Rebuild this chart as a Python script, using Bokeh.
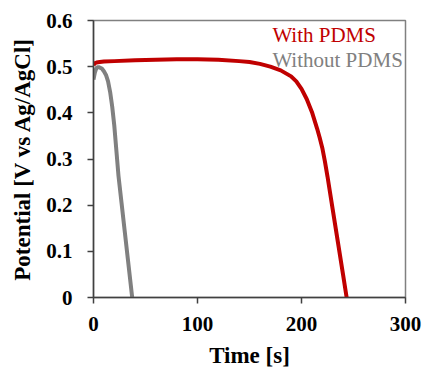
from bokeh.plotting import figure
from bokeh.models import Range1d, FixedTicker, Label
from bokeh.embed import file_html
from bokeh.resources import INLINE

# Data
time_with = [0, 1, 3, 6, 10, 20, 40, 60, 80, 100, 120, 140, 150, 160, 170, 180,
             190, 195, 200, 205, 210, 215, 217.5, 220, 222.5, 225, 230, 235, 240, 243.4]
pot_with = [0.503, 0.507, 0.509, 0.510, 0.511, 0.512, 0.514, 0.515, 0.516, 0.516,
            0.515, 0.512, 0.510, 0.506, 0.500, 0.492, 0.479, 0.468, 0.452, 0.430,
            0.402, 0.366, 0.346, 0.324, 0.295, 0.262, 0.191, 0.120, 0.049, 0.0]

time_without = [0, 0.5, 1.3, 2.5, 3.5, 5, 8, 10, 12, 14, 16, 18, 20, 22, 24, 27,
                30, 33, 37.2]
pot_without = [0.472, 0.478, 0.487, 0.495, 0.499, 0.499, 0.496, 0.490, 0.482,
               0.468, 0.445, 0.413, 0.372, 0.318, 0.264, 0.204, 0.144, 0.084, 0.0]

x_ticks = [0, 100, 200, 300]
y_ticks = [0, 0.1, 0.2, 0.3, 0.4, 0.5, 0.6]
y_tick_labels = {0: "0", 0.1: "0.1", 0.2: "0.2", 0.3: "0.3", 0.4: "0.4", 0.5: "0.5", 0.6: "0.6"}

series_names = ["With PDMS", "Without PDMS"]
RED = "#C00000"
GRAY = "#808080"
FONT = "Liberation Serif"

p = figure(frame_width=312, frame_height=277, output_backend="svg", toolbar_location=None,
           x_range=Range1d(0, 300), y_range=Range1d(0, 0.6),
           min_border_left=93, min_border_right=18, min_border_top=20,
           min_border_bottom=74)

p.line(time_with, pot_with, line_color=RED, line_width=4)
p.line(time_without, pot_without, line_color=GRAY, line_width=4)

p.xgrid.visible = False
p.ygrid.visible = False
p.outline_line_color = GRAY
p.outline_line_width = 1.5

for ax in (p.xaxis[0], p.yaxis[0]):
    ax.axis_line_color = "#404040"
    ax.axis_line_width = 1.5
    ax.major_tick_line_color = "#404040"
    ax.major_tick_line_width = 1.5
    ax.major_tick_in = 0
    ax.major_tick_out = 6
    ax.minor_tick_line_color = None
    ax.major_label_text_font = FONT
    ax.major_label_text_font_style = "bold"
    ax.major_label_text_font_size = "21px"
    ax.major_label_text_color = "black"
    ax.axis_label_text_font = FONT
    ax.axis_label_text_font_style = "bold"
    ax.axis_label_text_font_size = "23px"
    ax.axis_label_text_color = "black"

p.xaxis.ticker = FixedTicker(ticks=x_ticks)
p.yaxis.ticker = FixedTicker(ticks=y_ticks)
p.yaxis.major_label_overrides = y_tick_labels
p.xaxis.axis_label = "Time [s]"
p.yaxis.axis_label = "Potential [V vs Ag/AgCl]"
p.xaxis.major_label_standoff = 13
p.yaxis.major_label_standoff = 15
p.xaxis.axis_label_standoff = 9
p.yaxis.axis_label_standoff = 8

p.add_layout(Label(x=172, y=0.568, text=series_names[0], text_color=RED,
                   text_font=FONT, text_font_size="21px", text_baseline="middle"))
p.add_layout(Label(x=172, y=0.514, text=series_names[1], text_color=GRAY,
                   text_font=FONT, text_font_size="21px", text_baseline="middle"))

open("out.html", "w").write(file_html(p, INLINE))
